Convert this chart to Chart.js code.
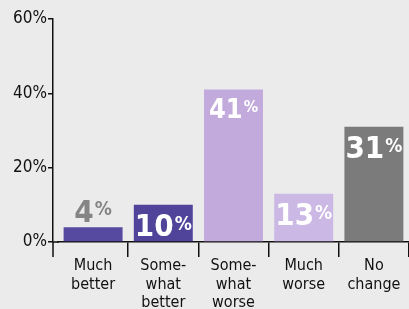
<!DOCTYPE html>
<html>
<head>
<meta charset="utf-8">
<script src="https://cdn.jsdelivr.net/npm/chart.js@4/dist/chart.umd.min.js"></script>
<style>
  html, body { margin: 0; padding: 0; background: #ebebeb; }
  #wrap { width: 409px; height: 309px; }
</style>
</head>
<body>
<div id="wrap"><canvas id="chart"></canvas></div>
<script>
// categories, values and ticks
const categories = [["Much", "better"], ["Some-", "what", "better"], ["Some-", "what", "worse"], ["Much", "worse"], ["No", "change"]];
const values = [4, 10, 41, 13, 31];
const barColors = ["#5549a0", "#50449a", "#c2aadd", "#cbb8e4", "#7b7b7b"];
const labelColors = ["#858585", "#ffffff", "#ffffff", "#ffffff", "#ffffff"];
const labelInside = [false, true, true, true, true];
const labelSizes = [31, 31, 27, 31, 31];
const yTicks = [0, 20, 40, 60];

const FONT = "'DejaVu Sans Condensed', 'Liberation Sans Narrow', Arial, sans-serif";
const INK = "#111";
const X_SHIFT = 5; // categories start a little right of the y axis

// draws "41%" with a big number and a smaller percent sign, tops aligned
const valueLabels = {
  id: "valueLabels",
  afterLayout(chart) {
    const x = chart.scales.x;
    x.left += X_SHIFT;
    x.configure();
  },
  afterDraw(chart) {
    // close the small gap between the y axis and the shifted x axis
    const ctx = chart.ctx;
    const x = chart.scales.x;
    const yAxis = chart.scales.y.right;
    ctx.save();
    ctx.strokeStyle = INK;
    ctx.lineWidth = 1.5;
    ctx.beginPath();
    ctx.moveTo(yAxis, x.top);
    ctx.lineTo(x.left + 1, x.top);
    ctx.moveTo(yAxis, x.top);
    ctx.lineTo(yAxis, x.top + 15);
    ctx.stroke();
    ctx.restore();
  },
  afterDatasetsDraw(chart) {
    const ctx = chart.ctx;
    const meta = chart.getDatasetMeta(0);
    meta.data.forEach((bar, i) => {
      const num = String(values[i]);
      const big = labelSizes[i];
      const small = Math.round(big * 0.6);
      const cap = big * 0.73;
      ctx.save();
      ctx.font = "bold " + big + "px " + FONT;
      const wNum = ctx.measureText(num).width;
      ctx.font = "bold " + small + "px " + FONT;
      const wPct = ctx.measureText("%").width;
      const x0 = bar.x - (wNum + wPct + 1) / 2;
      const base = labelInside[i] ? bar.y + 9 + cap : bar.y - 5;
      const top = base - cap;
      ctx.fillStyle = labelColors[i];
      ctx.textBaseline = "alphabetic";
      ctx.textAlign = "left";
      ctx.font = "bold " + big + "px " + FONT;
      ctx.fillText(num, x0, base);
      ctx.font = "bold " + small + "px " + FONT;
      ctx.fillText("%", x0 + wNum + 1, top + 2 + small * 0.73);
      ctx.restore();
    });
  }
};

new Chart(document.getElementById("chart"), {
  type: "bar",
  data: {
    labels: categories,
    datasets: [{
      data: values,
      backgroundColor: barColors,
      borderWidth: 0,
      barPercentage: 0.84,
      categoryPercentage: 1
    }]
  },
  options: {
    responsive: true,
    maintainAspectRatio: false,
    animation: false,
    layout: { padding: { top: 19, right: 0, left: 0, bottom: 0 } },
    plugins: { legend: { display: false }, tooltip: { enabled: false } },
    scales: {
      x: {
        grid: {
          display: true, offset: true, drawOnChartArea: false, tickLength: 15, lineWidth: 1.5,
          color: c => (c.index === 0 ? "rgba(0,0,0,0)" : INK)
        },
        border: { display: true, color: INK, width: 1.5 },
        ticks: { color: INK, font: { family: FONT, size: 16, lineHeight: 1.15 }, padding: 0, maxRotation: 0, autoSkip: false },
        afterFit: s => { s.height = 67; }
      },
      y: {
        min: 0, max: 60,
        afterBuildTicks: s => { s.ticks = yTicks.map(v => ({ value: v })); },
        grid: { display: true, drawOnChartArea: false, tickLength: 5, color: INK, lineWidth: 1.5 },
        border: { display: true, color: INK, width: 1.5 },
        ticks: { color: INK, font: { family: FONT, size: 17 }, padding: 1, callback: v => v + "%" },
        afterFit: s => { s.width = 53; }
      }
    }
  },
  plugins: [valueLabels]
});
</script>
</body>
</html>
